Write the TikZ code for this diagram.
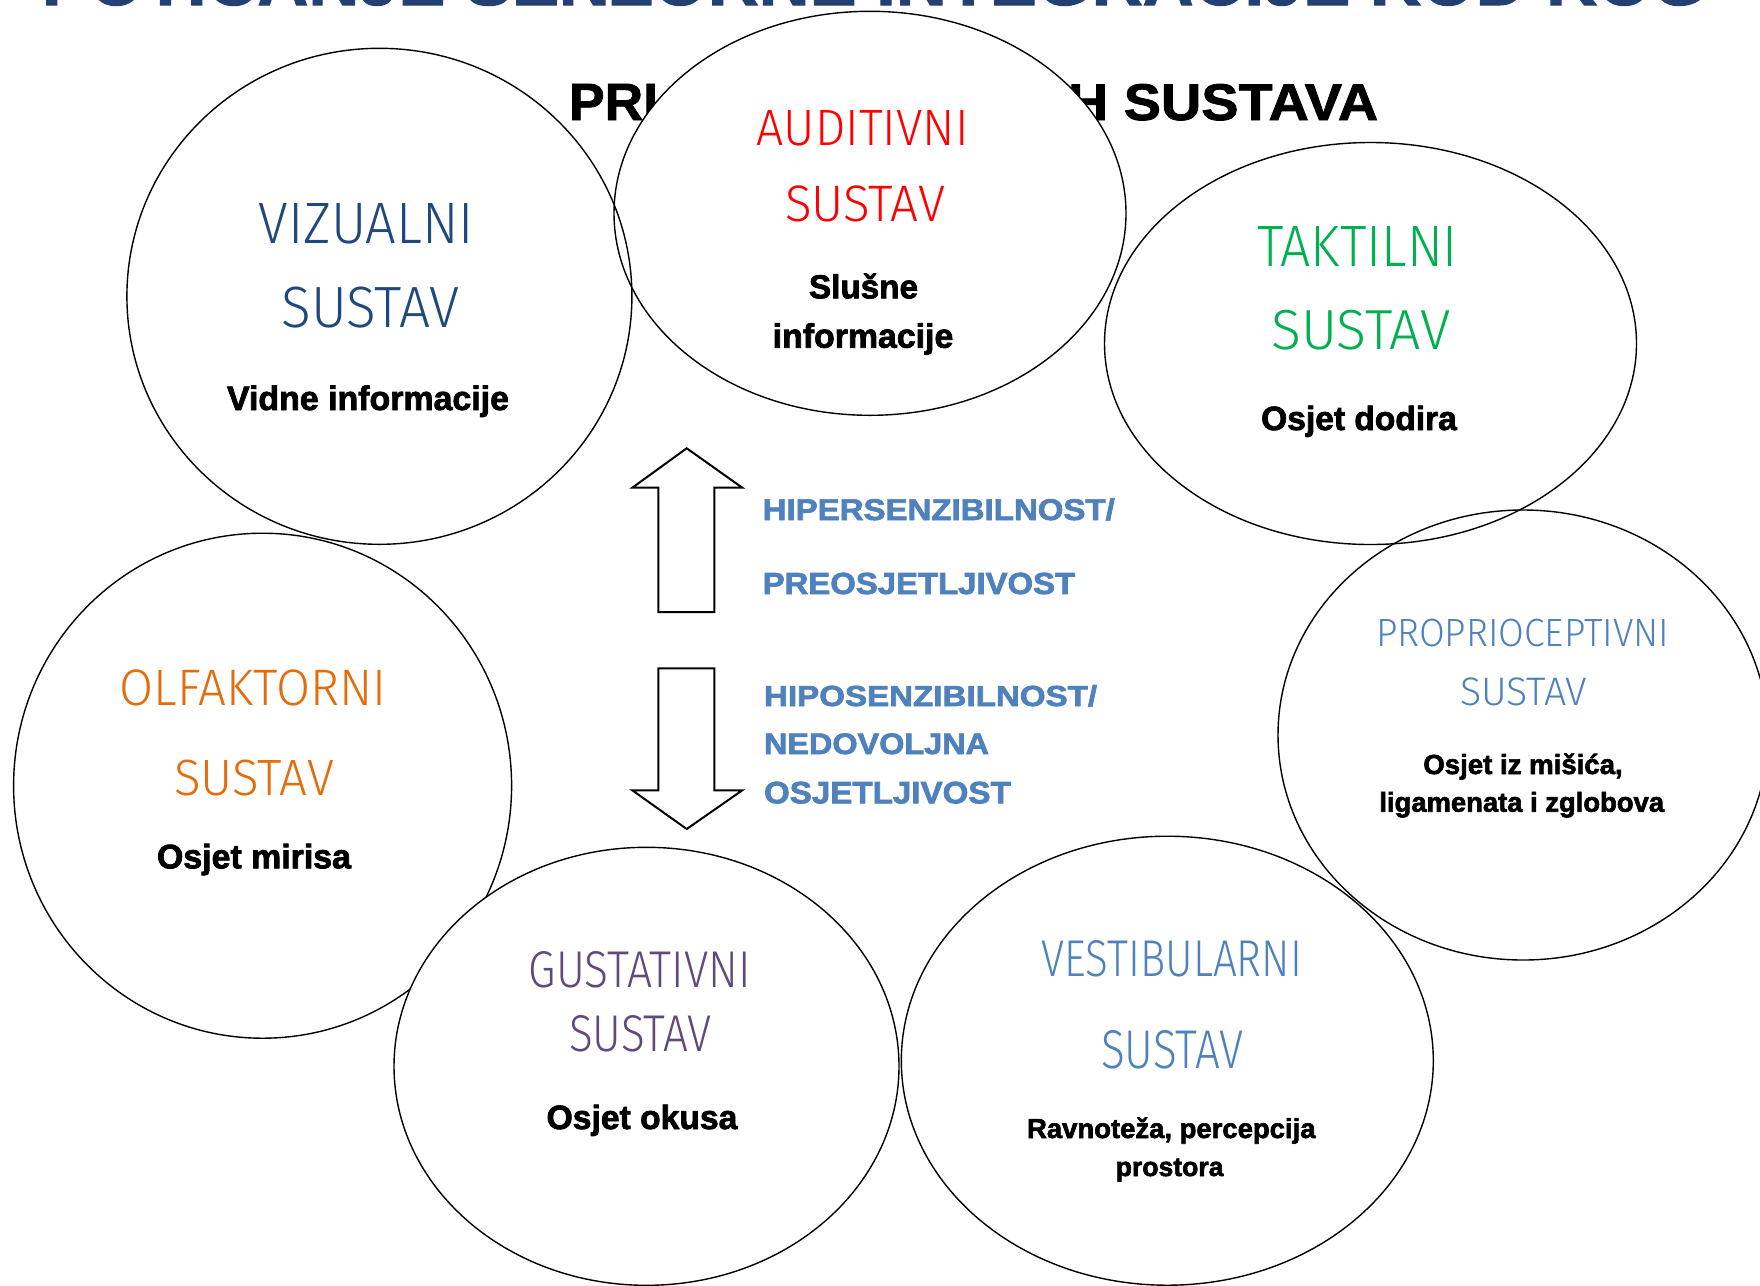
\documentclass[tikz,border=0pt]{standalone}
\usepackage{fontspec}
\usepackage{graphicx}
\setmainfont{Liberation Sans}
\newfontfamily\heavyf{Liberation Sans Bold}[FakeBold=2.2]
\newfontfamily\boldf{Liberation Sans Bold}[FakeBold=1.5]
\IfFontExistsTF{FiraSans-Light.otf}{\newfontfamily\lightf{FiraSans-Light.otf}}{%
  \IfFontExistsTF{Fira Sans Light}{\newfontfamily\lightf{Fira Sans Light}}{\newfontfamily\lightf{Open Sans}}}
\definecolor{vizc}{RGB}{31,73,125}
\definecolor{audc}{RGB}{255,0,0}
\definecolor{takc}{RGB}{0,176,80}
\definecolor{proc}{RGB}{79,129,189}
\definecolor{olfc}{RGB}{228,108,10}
\definecolor{gusc}{RGB}{96,74,123}
\definecolor{vesc}{RGB}{79,129,189}
\definecolor{senc}{RGB}{79,129,189}
\definecolor{titc}{RGB}{36,64,115}
\newcommand{\fw}[3]{\resizebox{#1pt}{#2pt}{#3}}
\newcommand{\fwo}[2]{\resizebox{#1pt}{!}{#2}}
\begin{document}
\begin{tikzpicture}[x=1pt,y=-1pt,
  txt/.style={inner sep=0pt, outer sep=0pt, anchor=base},
  txtw/.style={inner sep=0pt, outer sep=0pt, anchor=base west},
  ring/.style={draw=black, line width=1.4pt},
  blockarrow/.style={draw=black, line width=2pt, fill=white, line join=miter}]
\useasboundingbox (0,0) rectangle (1760,1285);
\clip (0,0) rectangle (1760,1285);
\fill[white] (0,0) rectangle (1760,1285);
% titles (partly hidden)
\node[txtw, text=titc] (toptitle) at (42,5) {\boldf\fontsize{70.5}{80}\selectfont POTICANJE SENZORNE INTEGRACIJE KOD KOG};
\node[txtw] (subA) at (569,120) {\boldf\fw{89}{36}{PRI}};
\node[txtw] (subB) at (1068,120) {\boldf\fw{310}{36}{H SUSTAVA}};
% ellipses
\fill[white] (870,213.3) ellipse [x radius=256pt, y radius=202pt];
\draw[ring] (379.4,296.3) ellipse [x radius=252.5pt, y radius=248pt];
\draw[ring] (870,213.3) ellipse [x radius=256pt, y radius=202pt];
\draw[ring] (1370.5,343.5) ellipse [x radius=266pt, y radius=201pt];
\draw[ring] (1523,735) ellipse [x radius=245pt, y radius=225pt];
\draw[ring] (262.6,785.7) ellipse [x radius=249pt, y radius=252.5pt];
\draw[ring] (1167.3,1060.7) ellipse [x radius=266pt, y radius=224.5pt];
\filldraw[ring, fill=white] (646.5,1066.3) ellipse [x radius=252.5pt, y radius=219pt];
% block arrows
\draw[blockarrow] (686.7,448.3) -- (742.3,487.7) -- (714.3,487.7) -- (714.3,612) -- (658.3,612) -- (658.3,487.7) -- (632.3,487.7) -- cycle;
\draw[blockarrow] (686.7,829) -- (742.3,790.3) -- (714.3,790.3) -- (714.3,668.3) -- (658.3,668.3) -- (658.3,790.3) -- (632.3,790.3) -- cycle;
% VIZUALNI
\node[txt, text=vizc] (vizA) at (366.4,243.3) {\lightf\fw{215}{40}{VIZUALNI}};
\node[txt, text=vizc] (vizB) at (370.5,327.3) {\lightf\fw{178}{40.5}{SUSTAV}};
\node[txt] (vizC) at (368,410) {\heavyf\fwo{282}{Vidne informacije}};
% AUDITIVNI
\node[txt, text=audc] (audA) at (862.8,145) {\lightf\fw{211.6}{35}{AUDITIVNI}};
\node[txt, text=audc] (audB) at (865,221.7) {\lightf\fw{160}{35.7}{SUSTAV}};
\node[txt] (audC) at (863.5,298.3) {\heavyf\fwo{109}{Slušne}};
\node[txt] (audD) at (863,347.7) {\heavyf\fwo{180.6}{informacije}};
% TAKTILNI
\node[txt, text=takc] (takA) at (1357.5,266) {\lightf\fw{201}{40}{TAKTILNI}};
\node[txt, text=takc] (takB) at (1361,349.3) {\lightf\fw{179.6}{39.3}{SUSTAV}};
\node[txt] (takC) at (1359,430) {\heavyf\fwo{195.7}{Osjet dodira}};
% PROPRIOCEPTIVNI
\node[txt, text=proc] (proA) at (1522.7,646.7) {\lightf\fw{293.3}{27.4}{PROPRIOCEPTIVNI}};
\node[txt, text=proc] (proB) at (1523.7,705) {\lightf\fw{127.3}{27.7}{SUSTAV}};
\node[txt] (proC) at (1523,774) {\heavyf\fwo{199.4}{Osjet iz mišića,}};
\node[txt] (proD) at (1521.7,811.7) {\heavyf\fwo{284.7}{ligamenata i zglobova}};
% OLFAKTORNI
\node[txt, text=olfc] (olfA) at (253,705.7) {\lightf\fw{266.8}{35.7}{OLFAKTORNI}};
\node[txt, text=olfc] (olfB) at (254,795) {\lightf\fw{159.7}{35.5}{SUSTAV}};
\node[txt] (olfC) at (254,868.3) {\heavyf\fwo{194}{Osjet mirisa}};
% GUSTATIVNI
\node[txt, text=gusc] (gusA) at (639.8,987.7) {\lightf\fw{222}{36}{GUSTATIVNI}};
\node[txt, text=gusc] (gusB) at (640.4,1051.7) {\lightf\fw{142.5}{36}{SUSTAV}};
\node[txt] (gusC) at (642,1129) {\heavyf\fwo{190.8}{Osjet okusa}};
% VESTIBULARNI
\node[txt, text=vesc] (vesA) at (1171.8,976.5) {\lightf\fw{260.4}{36}{VESTIBULARNI}};
\node[txt, text=vesc] (vesB) at (1172.4,1068.5) {\lightf\fw{142.5}{38}{SUSTAV}};
\node[txt] (vesC) at (1171.3,1138) {\heavyf\fwo{288.5}{Ravnoteža, percepcija}};
\node[txt] (vesD) at (1169.6,1176) {\heavyf\fwo{107.7}{prostora}};
% sensitivity labels
\node[txtw, text=senc] (hipA) at (762.7,520) {\heavyf\fw{352}{21.7}{HIPERSENZIBILNOST/}};
\node[txtw, text=senc] (hipB) at (762.7,594) {\heavyf\fw{312.3}{21.3}{PREOSJETLJIVOST}};
\node[txtw, text=senc] (hopA) at (764,706) {\heavyf\fw{333}{21}{HIPOSENZIBILNOST/}};
\node[txtw, text=senc] (hopB) at (764,754) {\heavyf\fw{225}{20.7}{NEDOVOLJNA}};
\node[txtw, text=senc] (hopC) at (764,803.3) {\heavyf\fw{246.7}{21.6}{OSJETLJIVOST}};
\end{tikzpicture}
\end{document}
